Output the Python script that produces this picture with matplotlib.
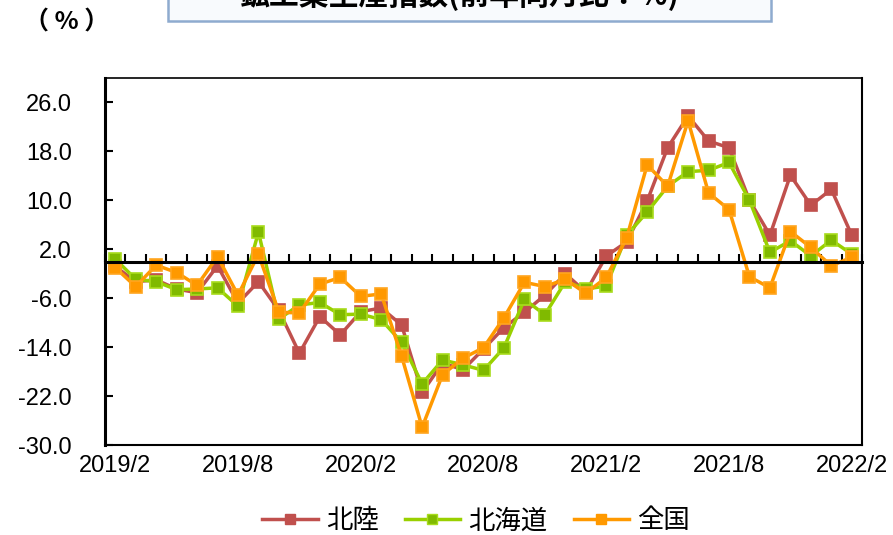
import numpy as np
import matplotlib.pyplot as plt
from matplotlib.lines import Line2D
from matplotlib.patches import Rectangle

# monthly values, 2019/2 .. 2022/2 (year-on-year, %)
months = ["2019/2", "2019/3", "2019/4", "2019/5", "2019/6", "2019/7", "2019/8",
          "2019/9", "2019/10", "2019/11", "2019/12", "2020/1", "2020/2",
          "2020/3", "2020/4", "2020/5", "2020/6", "2020/7", "2020/8",
          "2020/9", "2020/10", "2020/11", "2020/12", "2021/1", "2021/2",
          "2021/3", "2021/4", "2021/5", "2021/6", "2021/7", "2021/8",
          "2021/9", "2021/10", "2021/11", "2021/12", "2022/1", "2022/2"]
hokuriku = [-0.8, -3.3, -3.0, -4.5, -5.1, -0.7, -6.8, -3.3, -8.0, -15.0,
            -9.0, -12.0, -8.2, -7.6, -10.4, -21.4, -16.6, -17.7, -14.3,
            -10.8, -8.3, -5.5, -2.0, -5.0, 0.9, 3.2, 9.9, 18.6, 23.8,
            19.7, 18.6, 10.0, 4.3, 14.1, 9.2, 11.8, 4.3]
hokkaido = [0.4, -2.9, -3.3, -4.6, -4.5, -4.3, -7.3, 4.8, -9.4, -7.1,
            -6.7, -8.7, -8.6, -9.5, -13.2, -20.0, -16.1, -16.9, -17.8,
            -14.1, -6.2, -8.7, -3.3, -4.5, -4.0, 4.3, 8.1, 12.3, 14.7,
            14.9, 16.2, 10.0, 1.5, 3.4, 0.9, 3.5, 1.2]
national = [-1.0, -4.1, -0.6, -1.8, -3.9, 0.8, -5.5, 1.2, -8.3, -8.4,
            -3.7, -2.6, -5.7, -5.3, -15.5, -27.1, -18.5, -15.8, -14.1,
            -9.2, -3.4, -4.1, -2.9, -5.2, -2.6, 3.9, 15.8, 12.3, 23.0,
            11.2, 8.5, -2.5, -4.3, 4.9, 2.3, -0.7, 0.7]
series_names = ["北陸", "北海道", "全国"]
yticks = [-30, -22, -14, -6, 2, 10, 18, 26]
xlabel_idx = [0, 6, 12, 18, 24, 30, 36]

num_font = ["Liberation Sans", "DejaVu Sans"]
jp_font = ["Noto Sans CJK JP", "DejaVu Sans"]

fig = plt.figure(figsize=(8.93, 5.35), dpi=100)
ax = fig.add_axes([105 / 893, 1 - 445 / 535, 757 / 893, 367 / 535])

x = np.arange(len(months))
styles = [
    (hokuriku, "#C0504D", "#C0504D", "#C0504D"),
    (hokkaido, "#99D000", "#80BA00", "#A8DC1C"),
    (national, "#FF9900", "#FF9900", "#FFA620"),
]
for vals, lc, fc, ec in styles:
    ax.plot(x, vals, color=lc, lw=2.5, marker="s", markersize=8.5,
            markerfacecolor=fc, markeredgecolor=ec, markeredgewidth=1.2,
            solid_joinstyle="round")

ax.set_xlim(-0.5, len(months) - 0.5)
ax.set_ylim(-30, 30)

# zero line carries the category tick marks
ax.spines["bottom"].set_position(("data", 0))
ax.spines["bottom"].set_linewidth(2.2)
ax.set_xticks(np.arange(-0.5, len(months), 1))
ax.tick_params(axis="x", direction="in", length=6, width=1.5,
               labelbottom=False)

ax.set_yticks(yticks)
ax.set_yticklabels([f"{v:.1f}" for v in yticks], fontfamily=num_font,
                   fontsize=17)
ax.tick_params(axis="y", direction="in", length=6, width=1.5, pad=24)
ax.spines["left"].set_linewidth(2.2)
ax.spines["top"].set_linewidth(1.2)
ax.spines["right"].set_linewidth(1.5)

# frame bottom with the date labels
sec = ax.secondary_xaxis("bottom")
sec.set_xticks(xlabel_idx)
sec.set_xticklabels([months[i] for i in xlabel_idx], fontfamily=num_font,
                    fontsize=17)
sec.tick_params(length=0, pad=7)
sec.spines["bottom"].set_linewidth(1.5)

# title box
fig.patches.append(Rectangle((168 / 893, 1 - 21 / 535), 603 / 893, 0.2,
                             transform=fig.transFigure, facecolor="#F8FAFD",
                             edgecolor="#8EABCF", lw=1.8, zorder=0))
fig.text(460 / 893, 1 - 5 / 535, "鉱工業生産指数(前年同月比：%)",
         ha="center", va="baseline", fontsize=21.5, fontweight="bold",
         family=jp_font)
fig.text(67 / 893, 1 - 23 / 535, "（ % ）", ha="center", va="center",
         fontsize=18, fontweight="bold", family=jp_font)

handles = [
    Line2D([], [], color="#C0504D", lw=2.5, marker="s", markersize=7),
    Line2D([], [], color="#99D000", lw=2.5, marker="s", markersize=7,
           markerfacecolor="#80BA00", markeredgecolor="#A8DC1C"),
    Line2D([], [], color="#FF9900", lw=2.5, marker="s", markersize=7),
]
fig.legend(handles, series_names, loc="center", ncol=3, frameon=False,
           bbox_to_anchor=(476 / 893, 1 - 521 / 535),
           prop={"family": jp_font, "size": 19},
           handlelength=2.1, handletextpad=0.3, columnspacing=1.0)

fig.savefig("out.png", dpi=100)
